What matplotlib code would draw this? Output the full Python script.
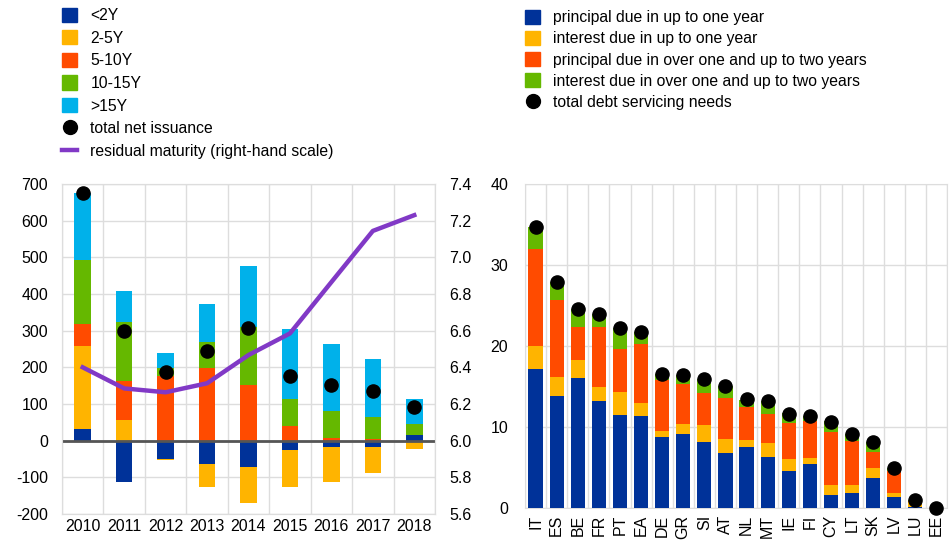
# net issuance by maturity and debt servicing needs by country
import numpy as np
import matplotlib
matplotlib.use("Agg")
from matplotlib import pyplot as plt
from matplotlib.patches import Patch
from matplotlib.lines import Line2D

plt.rcParams['font.family'] = ['Liberation Sans', 'DejaVu Sans']
plt.rcParams['axes.unicode_minus'] = False

# left panel data
years = ['2010', '2011', '2012', '2013', '2014', '2015', '2016', '2017', '2018']
lt2y = [32, -112, -50, -64, -72, -25, -17, -17, 15]
y2_5 = [226, 57, -2, -63, -99, -102, -95, -72, -23]
y5_10 = [60, 106, 177, 199, 152, 40, 8, 5, 0]
y10_15 = [176, 160, 22, 71, 158, 75, 72, 59, 30]
gt15y = [182, 86, 40, 102, 167, 189, 185, 160, 70]
total_net = [676, 298, 188, 245, 306, 177, 153, 135, 92]
resid_mat = [6.40, 6.285, 6.264, 6.313, 6.467, 6.585, 6.865, 7.144, 7.23]

# right panel data
countries = ['IT', 'ES', 'BE', 'FR', 'PT', 'EA', 'DE', 'GR', 'SI', 'AT',
             'NL', 'MT', 'IE', 'FI', 'CY', 'LT', 'SK', 'LV', 'LU', 'EE']
princ_1y = [17.1, 13.8, 16.0, 13.2, 11.5, 11.3, 8.8, 9.1, 8.2, 6.8,
            7.5, 6.3, 4.6, 5.4, 1.6, 1.8, 3.7, 1.3, 0.1, 0.0]
int_1y = [2.9, 2.4, 2.3, 1.7, 2.8, 1.7, 0.7, 1.3, 2.0, 1.7,
          0.9, 1.7, 1.4, 0.8, 1.3, 1.0, 1.2, 0.5, 0.6, 0.0]
princ_2y = [12.0, 9.5, 4.1, 7.5, 5.3, 7.2, 6.3, 4.9, 4.0, 5.1,
            4.1, 3.6, 4.5, 4.5, 6.5, 5.5, 2.0, 2.8, 0.2, 0.0]
int_2y = [2.7, 2.2, 2.2, 1.6, 2.6, 1.5, 0.7, 1.1, 1.7, 1.5,
          0.8, 1.6, 1.2, 0.7, 1.3, 0.8, 1.3, 0.4, 0.1, 0.0]
total_needs = [34.7, 27.9, 24.6, 24.0, 22.2, 21.7, 16.5, 16.4, 15.9, 15.1,
               13.4, 13.2, 11.6, 11.4, 10.6, 9.1, 8.2, 5.0, 1.0, 0.05]

c_blue = '#003299'
c_yellow = '#FFB400'
c_orange = '#FF4B00'
c_green = '#65B800'
c_cyan = '#00B1EA'
c_purple = '#8139C6'
grid_c = '#DDDDDD'
fs = 11.5

fig = plt.figure(figsize=(9.49, 5.41), dpi=100)

# left chart
ax = fig.add_axes([62/949, 1-514/541, (435-62)/949, (514-184)/541])
x = np.arange(len(years))
w = 0.4
pos = np.zeros(len(years))
neg = np.zeros(len(years))
for vals, col in [(lt2y, c_blue), (y2_5, c_yellow), (y5_10, c_orange),
                  (y10_15, c_green), (gt15y, c_cyan)]:
    v = np.array(vals, dtype=float)
    base = np.where(v >= 0, pos, neg)
    ax.bar(x, v, w, bottom=base, color=col, zorder=3)
    pos = pos + np.where(v >= 0, v, 0)
    neg = neg + np.where(v < 0, v, 0)
ax.scatter(x, total_net, s=90, color='black', zorder=5)
ax.axhline(0, color='#555555', lw=2, zorder=4)
ax.set_xlim(-0.5, len(years) - 0.5)
ax.set_ylim(-200, 700)
ax.set_yticks(range(-200, 701, 100))
ax.set_xticks(x)
ax.set_xticklabels(years)
ax.set_xticks(np.arange(-0.5, len(years), 1), minor=True)
ax.grid(axis='y', color=grid_c, lw=1, zorder=0)
ax.grid(axis='x', which='minor', color=grid_c, lw=1, zorder=0)
ax.tick_params(which='both', length=0, labelsize=fs)
ax.tick_params(axis='y', pad=10)
for s in ax.spines.values():
    s.set_color(grid_c)

ax2 = ax.twinx()
ax2.plot(x, resid_mat, color=c_purple, lw=3.2, zorder=6)
ax2.set_ylim(5.6, 7.4)
ax2.set_yticks(np.arange(5.6, 7.41, 0.2))
ax2.set_yticklabels(['%.1f' % t for t in np.arange(5.6, 7.41, 0.2)])
ax2.tick_params(length=0, labelsize=fs, pad=10)
for s in ax2.spines.values():
    s.set_color(grid_c)

# right chart
bx = fig.add_axes([525/949, 1-508/541, (947-525)/949, (508-184)/541])
xc = np.arange(len(countries))
bot = np.zeros(len(countries))
for vals, col in [(princ_1y, c_blue), (int_1y, c_yellow),
                  (princ_2y, c_orange), (int_2y, c_green)]:
    bx.bar(xc, vals, 0.67, bottom=bot, color=col, zorder=3)
    bot = bot + np.array(vals)
bx.scatter(xc, total_needs, s=90, color='black', zorder=5, clip_on=False)
bx.set_xlim(-0.5, len(countries) - 0.5)
bx.set_ylim(0, 40)
bx.set_yticks(range(0, 41, 10))
bx.set_xticks(xc)
bx.set_xticklabels(countries, rotation=90)
bx.set_xticks(np.arange(-0.5, len(countries), 1), minor=True)
bx.grid(axis='y', color=grid_c, lw=1, zorder=0)
bx.grid(axis='x', which='minor', color=grid_c, lw=1, zorder=0)
bx.tick_params(which='both', length=0, labelsize=fs)
bx.tick_params(axis='y', pad=12)
bx.tick_params(axis='x', pad=5)
for s in bx.spines.values():
    s.set_color(grid_c)

# legends
h_left = [Patch(color=c_blue), Patch(color=c_yellow), Patch(color=c_orange),
          Patch(color=c_green), Patch(color=c_cyan),
          Line2D([], [], ls='none', marker='o', color='black', markersize=10),
          Line2D([], [], color=c_purple, lw=3.2)]
l_left = ['<2Y', '2-5Y', '5-10Y', '10-15Y', '>15Y', 'total net issuance',
          'residual maturity (right-hand scale)']
fig.legend(h_left, l_left, loc='upper left', bbox_to_anchor=(48/949, 1.012),
           frameon=False, fontsize=11.3, handlelength=0.95, handleheight=1.0,
           labelspacing=0.46, handletextpad=0.85)

h_right = [Patch(color=c_blue), Patch(color=c_yellow), Patch(color=c_orange),
           Patch(color=c_green),
           Line2D([], [], ls='none', marker='o', color='black', markersize=10)]
l_right = ['principal due in up to one year', 'interest due in up to one year',
           'principal due in over one and up to two years',
           'interest due in over one and up to two years',
           'total debt servicing needs']
fig.legend(h_right, l_right, loc='upper left', bbox_to_anchor=(511/949, 1.008),
           frameon=False, fontsize=11.3, handlelength=0.95, handleheight=1.0,
           labelspacing=0.37, handletextpad=0.85)

fig.savefig('out.png', dpi=100)
